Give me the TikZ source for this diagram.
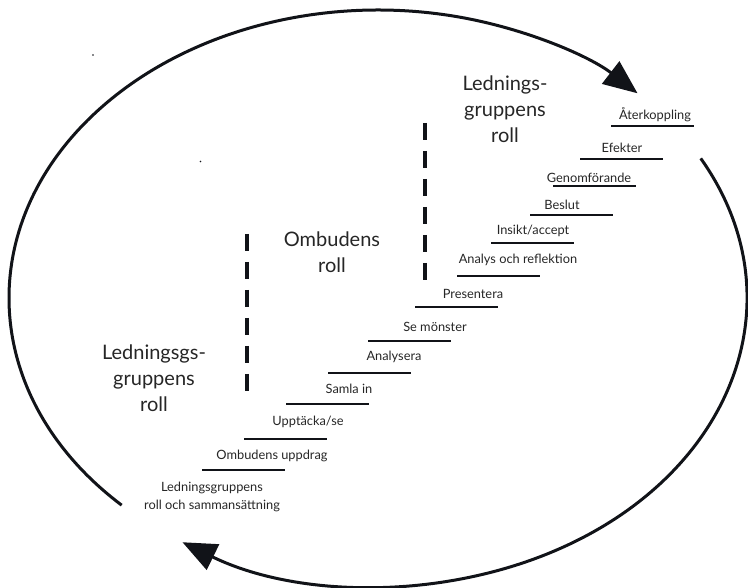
\documentclass[tikz,border=0pt]{standalone}
\usepackage{fontspec}
\setmainfont{Lato}
\usetikzlibrary{arrows.meta}
\definecolor{lineDark}{HTML}{111318}
\definecolor{textMain}{HTML}{262626}
\tikzset{
  cyclearrow/.style={
    -{Triangle[length=34pt, width=28pt]}, line width=3pt, color=lineDark,
  },
  stepline/.style={
    line width=2.7pt, color=lineDark,
  },
  steplabel/.style={
    font=\fontsize{12.8}{18}\selectfont, text=textMain, inner sep=0pt, align=center,
  },
  rolelabel/.style={
    font=\fontsize{20}{26}\selectfont, text=textMain, inner sep=0pt, align=center,
  },
  roledivider/.style={
    line width=4.5pt, color=lineDark, dash pattern=on 17.5pt off 10.5pt,
  },
}

\begin{document}
\begin{tikzpicture}[x=1pt, y=-1pt]

  \useasboundingbox (0,0) rectangle (748,588);

  % === Cycle ===
  \coordinate (hub) at (378,298);
  \draw[cyclearrow] ([shift={(134:369 and 288)}]hub) arc[start angle=134, end angle=314.7, x radius=369, y radius=288];
  \draw[cyclearrow] ([shift={(-29:369 and 288)}]hub) arc[start angle=-29, end angle=122, x radius=369, y radius=288];

  % === Steps ===
  \foreach \x/\y in {611/126, 580/159, 553/186, 530/215, 491/243, 457/276,
                     415/307, 368/341, 328/373, 286/404, 244/439, 202/470}
    \draw[stepline] (\x,\y) -- ++(83,0);

  % === Step labels ===
  \node[steplabel] (aterkoppling) at (655,115) {Återkoppling};
  \node[steplabel] (efekter) at (622,148) {Efekter};
  \node[steplabel] (genomforande) at (589,178) {Genomförande};
  \node[steplabel] (beslut) at (562,205) {Beslut};
  \node[steplabel] (insikt) at (533,231) {Insikt/accept};
  \node[steplabel] (analysrefl) at (518,260) {Analys och reflektion};
  \node[steplabel] (presentera) at (473,294) {Presentera};
  \node[steplabel] (monster) at (435,327) {Se mönster};
  \node[steplabel] (analysera) at (394,357) {Analysera};
  \node[steplabel] (samla) at (349,389) {Samla in};
  \node[steplabel] (upptacka) at (308,422) {Upptäcka/se};
  \node[steplabel] (uppdrag) at (272,456) {Ombudens uppdrag};
  \node[steplabel] (sammansattning) at (212,497) {Ledningsgruppens\\roll och sammansättning};

  % === Roles ===
  \node[rolelabel] (ledningLeft) at (154,378) {Ledningsgs-\\gruppens\\roll};
  \node[rolelabel] (ombudRole) at (332,252) {Ombudens\\roll};
  \node[rolelabel] (ledningTop) at (505,109) {Lednings-\\gruppens\\roll};

  % Dividers between roles
  \draw[roledivider] (247,234) -- (247,392);
  \draw[roledivider] (425,123) -- (425,281);

  % stray marks
  \fill[lineDark] (93,55) circle (0.8pt);
  \fill[lineDark] (200.5,161.5) circle (0.8pt);

\end{tikzpicture}
\end{document}
